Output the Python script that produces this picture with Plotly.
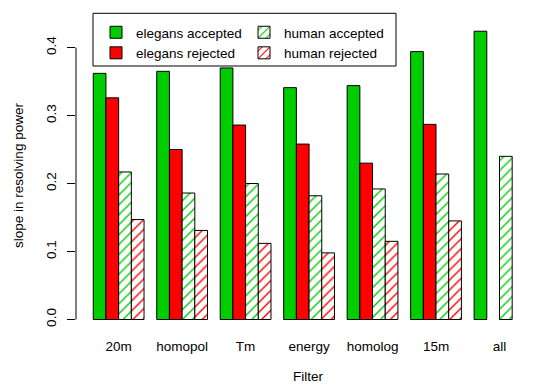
import plotly.graph_objects as go

filters = ["20m", "homopol", "Tm", "energy", "homolog", "15m", "all"]
elegans_accepted = [0.362, 0.365, 0.370, 0.341, 0.344, 0.394, 0.424]
elegans_rejected = [0.326, 0.250, 0.286, 0.258, 0.230, 0.287, None]
human_accepted = [0.217, 0.186, 0.200, 0.182, 0.192, 0.214, 0.240]
human_rejected = [0.147, 0.131, 0.112, 0.098, 0.115, 0.145, None]

GREEN = "#00CD00"
RED = "#FF0000"
FONT = "Liberation Sans, Arial, sans-serif"

W, H = 533, 385
ml, mr, mt, mb = 76, 0, 20, 54
pw, ph = W - ml - mr, H - mt - mb

def px_x(p):
    return (p - ml) / pw

def px_y(p):
    return (H - mb - p) / ph

fig = go.Figure()
series = [
    ("elegans accepted", elegans_accepted, GREEN, None, "legend"),
    ("elegans rejected", elegans_rejected, RED, None, "legend"),
    ("human accepted", human_accepted, GREEN, "/", "legend2"),
    ("human rejected", human_rejected, RED, "/", "legend2"),
]
for name, vals, col, pat, leg in series:
    if pat is None:
        marker = dict(color=col, line=dict(color="black", width=1))
    else:
        marker = dict(color="white", line=dict(color="black", width=1),
                      pattern=dict(shape="/", fgcolor=col, bgcolor="white",
                                   size=7, solidity=0.2, fillmode="replace"))
    fig.add_trace(go.Bar(x=filters, y=vals, name=name, marker=marker, legend=leg))

fig.update_layout(
    width=W, height=H,
    margin=dict(l=ml, r=mr, t=mt, b=mb),
    plot_bgcolor="white", paper_bgcolor="white",
    barmode="group", bargap=0.2, bargroupgap=0,
    font=dict(family=FONT, size=13.5, color="black"),
    xaxis=dict(range=[-0.672, 6.528], showline=False, showgrid=False, zeroline=False,
               ticks="", ticklabelstandoff=5, tickfont=dict(size=13.5)),
    yaxis=dict(range=[-0.0169, 0.4405], tickvals=[0, 0.1, 0.2, 0.3, 0.4],
               ticktext=["0.0", "0.1", "0.2", "0.3", "0.4"],
               showgrid=False, zeroline=False, showline=False,
               ticks="outside", ticklen=8, tickcolor="black", tickangle=-90,
               ticklabelstandoff=6, tickfont=dict(size=13.5),
               title=dict(text="slope in resolving power", font=dict(size=13.5), standoff=16)),
    legend=dict(x=px_x(96), y=px_y(17), xanchor="left", yanchor="top",
                bgcolor="rgba(0,0,0,0)", font=dict(size=13.5), tracegroupgap=0),
    legend2=dict(x=px_x(244), y=px_y(17), xanchor="left", yanchor="top",
                 bgcolor="rgba(0,0,0,0)", font=dict(size=13.5), tracegroupgap=0),
    showlegend=True,
)

# y-axis line spanning ticks only (R style)
fig.add_shape(type="line", xref="paper", yref="y", x0=0, x1=0, y0=0, y1=0.4,
              line=dict(color="black", width=1))
# legend box
fig.add_shape(type="rect", xref="paper", yref="paper",
              x0=px_x(93), x1=px_x(396), y0=px_y(66), y1=px_y(13.3),
              line=dict(color="black", width=1), fillcolor="rgba(0,0,0,0)")
# x title
fig.add_annotation(text="Filter", xref="paper", yref="paper", x=px_x(308), y=px_y(376),
                   showarrow=False, font=dict(size=13.5), xanchor="center", yanchor="middle")

fig.write_html("out.html")
